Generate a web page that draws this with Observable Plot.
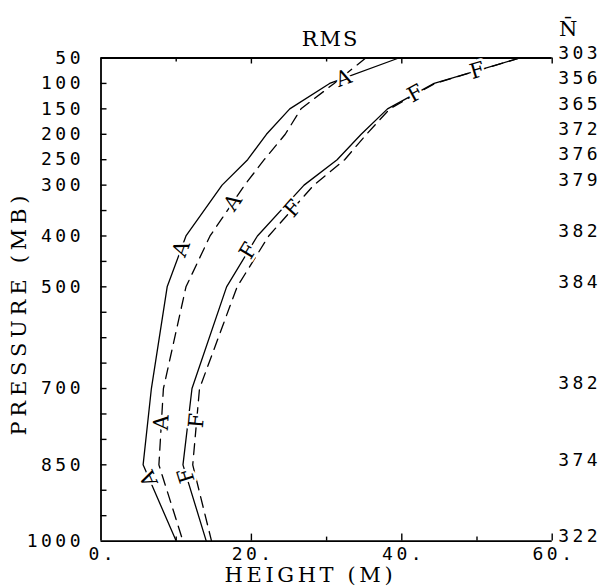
<!DOCTYPE html>
<html>
<head>
<meta charset="utf-8">
<script src="https://cdn.jsdelivr.net/npm/d3@7"></script>
<script src="https://cdn.jsdelivr.net/npm/@observablehq/plot@0.6"></script>
<style>
  html, body { margin: 0; padding: 0; background: #fff; }
</style>
</head>
<body>
<div id="chart"></div>
<script>
// Pressure levels (mb) and the mean number of reports at each level
const levels = [50, 100, 150, 200, 250, 300, 400, 500, 700, 850, 1000];
const nBar = [303, 356, 365, 372, 376, 379, 382, 384, 382, 374, 322];

// RMS height differences (m) for each level
const rmsA1 = [39.6, 30.4, 25.1, 22.0, 19.5, 16.1, 11.3, 8.8, 6.7, 5.6, 10.0];   // A, solid
const rmsA2 = [35.2, 31.0, 26.6, 24.5, 21.7, 19.1, 14.5, 11.3, 8.3, 7.7, 10.9];  // A, dashed
const rmsF1 = [55.7, 44.3, 38.1, 34.6, 31.4, 27.0, 20.8, 16.7, 12.1, 10.9, 14.0]; // F, solid
const rmsF2 = [55.7, 44.4, 38.4, 35.3, 32.4, 28.3, 22.3, 18.1, 13.1, 12.2, 14.7]; // F, dashed

// Pressure levels at which each curve carries its letter
const letterLevelsA1 = [90, 425, 877];
const letterLevelsA2 = [334, 767];
const letterLevelsF1 = [120, 429, 871];
const letterLevelsF2 = [75, 346, 763];

// Axis ticks and labels
const xLabelValues = [0, 20, 40, 60];
const xTickLabels = ["0.", "20.", "40.", "60."];
const xMajorTicks = [20, 40, 60];
const xMinorTicks = [10, 30, 50];
const yTicks = d3.range(100, 1000, 50);

// Layout
const W = 603, H = 588;
const mt = 57.5, mb = 47.4, ml = 100.5, mr = 51.3;
const plotW = W - ml - mr, plotH = H - mt - mb;
const kx = plotW / 60, ky = plotH / 950; // px per metre, px per mb

const curves = [
  {name: "A1", letter: "A", values: rmsA1, dashed: false, at: letterLevelsA1},
  {name: "A2", letter: "A", values: rmsA2, dashed: true, at: letterLevelsA2},
  {name: "F1", letter: "F", values: rmsF1, dashed: false, at: letterLevelsF1},
  {name: "F2", letter: "F", values: rmsF2, dashed: true, at: letterLevelsF2}
];

const rows = curves.flatMap(c => levels.map((p, i) => ({curve: c.name, dashed: c.dashed, p, rms: c.values[i]})));

// Place each letter on its curve, turned along the curve (traced upward from 1000 mb)
function letterAt(c, p) {
  let i = 0;
  while (i < levels.length - 2 && levels[i + 1] < p) i++;
  const t = (p - levels[i]) / (levels[i + 1] - levels[i]);
  const rms = c.values[i] + t * (c.values[i + 1] - c.values[i]);
  const dx = (c.values[i] - c.values[i + 1]) * kx;
  const dyUp = (levels[i + 1] - levels[i]) * ky;
  const angle = Math.atan2(dyUp, dx) * 180 / Math.PI;
  return {p, rms, rotate: -angle, letter: c.letter};
}
const letters = curves.flatMap(c => c.at.map(p => letterAt(c, p)));

const digitFont = "DejaVu Sans Mono";
const titleFont = "DejaVu Serif, Liberation Serif, serif";

const plot = Plot.plot({
  width: W,
  height: H,
  marginTop: mt,
  marginBottom: mb,
  marginLeft: ml,
  marginRight: mr,
  x: {domain: [0, 60], axis: null},
  y: {domain: [50, 1000], reverse: true, axis: null},
  style: {background: "white", color: "black", overflow: "visible"},
  marks: [
    // frame: top, bottom and left edges
    Plot.ruleY([50, 1000], {strokeWidth: 1.8}),
    Plot.ruleX([0], {strokeWidth: 1.8}),
    // inward ticks
    Plot.ruleY(yTicks, {insetRight: plotW - 6, strokeWidth: 1.4}),
    Plot.ruleX(xMajorTicks, {insetTop: plotH - 7, strokeWidth: 1.4}),
    Plot.ruleX(xMinorTicks, {insetTop: plotH - 4, strokeWidth: 1.4}),
    Plot.ruleX(xMajorTicks, {insetBottom: plotH - 6, strokeWidth: 1.4}),
    Plot.ruleX(xMinorTicks, {insetBottom: plotH - 4, strokeWidth: 1.4}),
    // curves
    Plot.line(rows.filter(d => !d.dashed), {x: "rms", y: "p", z: "curve", stroke: "black", strokeWidth: 1.3}),
    Plot.line(rows.filter(d => d.dashed), {x: "rms", y: "p", z: "curve", stroke: "black", strokeWidth: 1.3, strokeDasharray: "11,7"}),
    // curve letters with a white gap around them
    Plot.text(letters, {x: "rms", y: "p", text: "letter", rotate: "rotate", fontFamily: titleFont, fontSize: 21, fill: "white", stroke: "white", strokeWidth: 5}),
    Plot.text(letters, {x: "rms", y: "p", text: "letter", rotate: "rotate", fontFamily: titleFont, fontSize: 21, fill: "black"}),
    // pressure labels (left) and report counts (right)
    Plot.text(levels, {x: () => 0, y: d => d, text: d => String(d), textAnchor: "end", dx: -17, fontFamily: digitFont, fontSize: 18}),
    Plot.text(levels, {x: () => 60, y: d => d, text: (d, i) => String(nBar[i]), textAnchor: "start", dx: 6, dy: -5, fontFamily: digitFont, fontSize: 18}),
    // height labels
    Plot.text(xLabelValues, {x: d => d, y: () => 1000, text: (d, i) => xTickLabels[i], textAnchor: "middle", dx: 1.8, dy: 13.2, fontFamily: digitFont, fontSize: 18}),
    // titles
    Plot.text(["RMS"], {frameAnchor: "top", textAnchor: "middle", dy: -27, dx: 4, fontFamily: titleFont, fontSize: 21}),
    Plot.text(["N\u0304"], {x: () => 60, y: () => 50, dx: 16, dy: -29, fontFamily: titleFont, fontSize: 21}),
    Plot.text(["HEIGHT (M)"], {frameAnchor: "bottom", textAnchor: "middle", dy: 40.5, dx: -18, fontFamily: titleFont, fontSize: 21}),
    Plot.text(["PRESSURE (MB)"], {frameAnchor: "left", textAnchor: "middle", rotate: -90, dx: -82, dy: 16, fontFamily: titleFont, fontSize: 21})
  ]
});

// spacing of the plotter-style lettering
const titleLengths = {"HEIGHT (M)": 168, "PRESSURE (MB)": 240};
d3.select(plot).selectAll("text").each(function() {
  const s = this.textContent;
  if (/^[\d.]+$/.test(s)) d3.select(this).attr("letter-spacing", 3.5);
  else if (s === "RMS") d3.select(this).attr("letter-spacing", 2);
  else if (titleLengths[s]) d3.select(this).attr("textLength", titleLengths[s]).attr("lengthAdjust", "spacing");
});

document.getElementById("chart").appendChild(plot);
</script>
</body>
</html>
